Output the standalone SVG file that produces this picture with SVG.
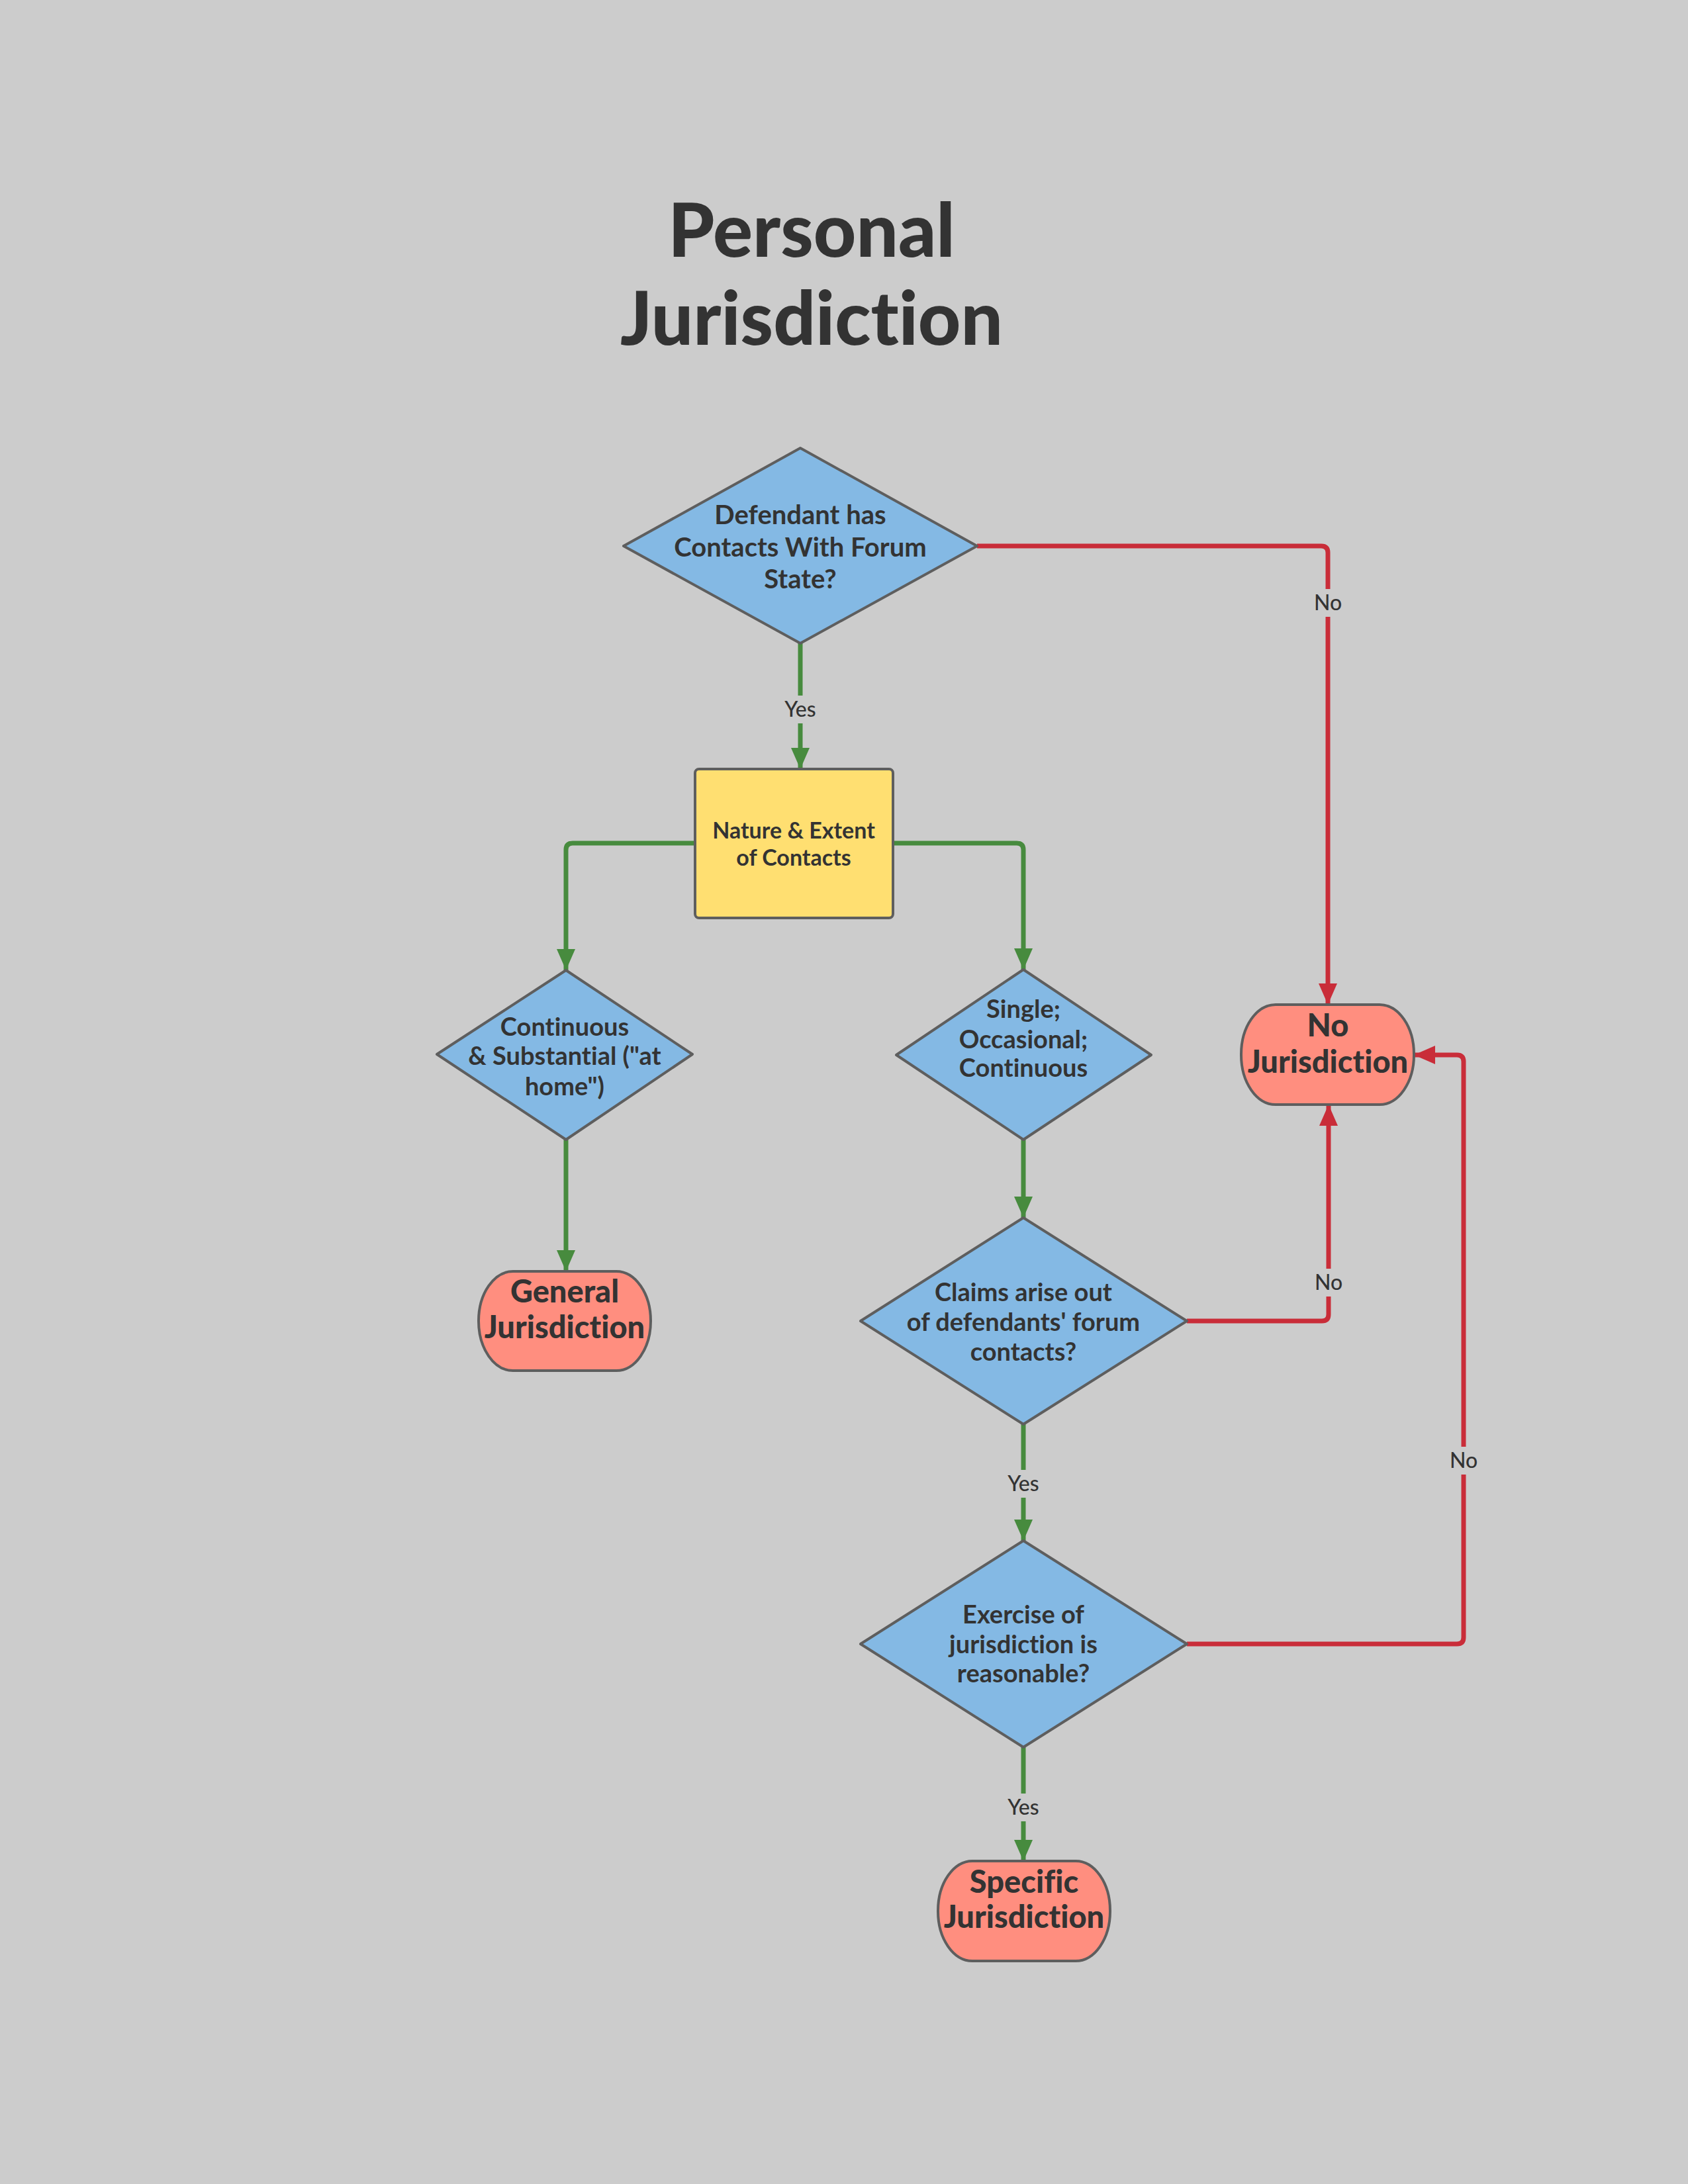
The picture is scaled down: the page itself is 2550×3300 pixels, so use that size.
<svg xmlns="http://www.w3.org/2000/svg" width="2550" height="3300" viewBox="0 0 2550 3300">
<defs>
<style>
.bg{fill:#cccccc}
.dia{fill:#84b9e4;stroke:#5e5e5e;stroke-width:4;stroke-linejoin:round}
.box{fill:#ffdf71;stroke:#5e5e5e;stroke-width:4}
.term{fill:#ff8e7f;stroke:#5e5e5e;stroke-width:4}
.t{font-family:Lato,"Liberation Sans",sans-serif;fill:#333333;text-anchor:middle;font-variant-ligatures:none}
.title{font-size:112px;font-weight:900}
.dt{font-size:38px;font-weight:700}
.bt{font-size:34px;font-weight:700}
.tt{font-size:47px;font-weight:900}
.lb{font-size:32px;font-weight:500}
.g{fill:none;stroke:#478b3e;stroke-width:7}
.r{fill:none;stroke:#c92d39;stroke-width:7}
.lbg{fill:#cccccc}
</style>
<marker id="ag" markerUnits="userSpaceOnUse" markerWidth="32" markerHeight="28" refX="32" refY="14" orient="auto">
<path d="M0,0 L32,14 L0,28 Z" fill="#478b3e"/>
</marker>
<marker id="ar" markerUnits="userSpaceOnUse" markerWidth="32" markerHeight="28" refX="32" refY="14" orient="auto">
<path d="M0,0 L32,14 L0,28 Z" fill="#c92d39"/>
</marker>
</defs>
<rect class="bg" x="0" y="0" width="2550" height="3300"/>
<g id="title">
<text class="t title" x="1226" y="388">Personal</text>
<text class="t title" x="1226" y="521">Jurisdiction</text>
</g>
<g id="connectors">
<path class="r" d="M1476,825 H1996 Q2006,825 2006,835 V1518" marker-end="url(#ar)"/>
<path class="g" d="M1209,972 V1162" marker-end="url(#ag)"/>
<path class="g" d="M1050,1274 H865 Q855,1274 855,1284 V1466" marker-end="url(#ag)"/>
<path class="g" d="M1349,1274 H1536 Q1546,1274 1546,1284 V1465" marker-end="url(#ag)"/>
<path class="g" d="M855,1722 V1921" marker-end="url(#ag)"/>
<path class="g" d="M1546,1722 V1840" marker-end="url(#ag)"/>
<path class="r" d="M1793,1996 H1997 Q2007,1996 2007,1986 V1669" marker-end="url(#ar)"/>
<path class="g" d="M1546,2152 V2328" marker-end="url(#ag)"/>
<path class="r" d="M1793,2484 H2201 Q2211,2484 2211,2474 V1604 Q2211,1594 2201,1594 H2136" marker-end="url(#ar)"/>
<path class="g" d="M1546,2640 V2812" marker-end="url(#ag)"/>
<rect class="lbg" x="1184" y="1051" width="50" height="42"/>
<text class="t lb" x="1209" y="1083">Yes</text>
<rect class="lbg" x="1984" y="890" width="44" height="42"/>
<text class="t lb" x="2006" y="922">No</text>
<rect class="lbg" x="1985" y="1917" width="44" height="42"/>
<text class="t lb" x="2007" y="1949">No</text>
<rect class="lbg" x="1521" y="2221" width="50" height="42"/>
<text class="t lb" x="1546" y="2253">Yes</text>
<rect class="lbg" x="2189" y="2186" width="44" height="42"/>
<text class="t lb" x="2211" y="2218">No</text>
<rect class="lbg" x="1521" y="2710" width="50" height="42"/>
<text class="t lb" x="1546" y="2742">Yes</text>
</g>
<g id="contacts">
<path class="dia" d="M1209,677 L1476,825 L1209,972 L942,825 Z"/>
<text class="t dt" x="1209" y="792" style="font-size:40px">Defendant has</text>
<text class="t dt" x="1209" y="841" style="font-size:40px">Contacts With Forum</text>
<text class="t dt" x="1209" y="889" style="font-size:40px">State?</text>
</g>
<g id="nature">
<rect class="box" x="1050" y="1162" width="299" height="225" rx="6"/>
<text class="t bt" x="1199" y="1267">Nature &amp; Extent</text>
<text class="t bt" x="1199" y="1308">of Contacts</text>
</g>
<g id="continuous">
<path class="dia" d="M855,1466 L1046,1593 L855,1722 L660,1593 Z"/>
<text class="t dt" x="853" y="1565">Continuous</text>
<text class="t dt" x="853" y="1609">&amp; Substantial ("at</text>
<text class="t dt" x="853" y="1655">home")</text>
</g>
<g id="general">
<rect class="term" x="723" y="1921" width="260" height="150" rx="52" ry="75"/>
<text class="t tt" x="853" y="1968">General</text>
<text class="t tt" x="853" y="2022">Jurisdiction</text>
</g>
<g id="single">
<path class="dia" d="M1546,1465 L1739,1594 L1546,1722 L1354,1594 Z"/>
<text class="t dt" x="1546" y="1538">Single;</text>
<text class="t dt" x="1546" y="1584">Occasional;</text>
<text class="t dt" x="1546" y="1627">Continuous</text>
</g>
<g id="nojur">
<rect class="term" x="1875" y="1518" width="261" height="151" rx="52" ry="75"/>
<text class="t tt" x="2006" y="1566">No</text>
<text class="t tt" x="2006" y="1621">Jurisdiction</text>
</g>
<g id="claims">
<path class="dia" d="M1546,1840 L1793,1996 L1546,2152 L1300,1996 Z"/>
<text class="t dt" x="1546" y="1966">Claims arise out</text>
<text class="t dt" x="1546" y="2011">of defendants' forum</text>
<text class="t dt" x="1546" y="2056">contacts?</text>
</g>
<g id="exercise">
<path class="dia" d="M1546,2328 L1793,2484 L1546,2640 L1300,2484 Z"/>
<text class="t dt" x="1546" y="2453">Exercise of</text>
<text class="t dt" x="1546" y="2498">jurisdiction is</text>
<text class="t dt" x="1546" y="2542">reasonable?</text>
</g>
<g id="specific">
<rect class="term" x="1417" y="2812" width="260" height="151" rx="52" ry="75"/>
<text class="t tt" x="1547" y="2860">Specific</text>
<text class="t tt" x="1547" y="2913">Jurisdiction</text>
</g>
</svg>
